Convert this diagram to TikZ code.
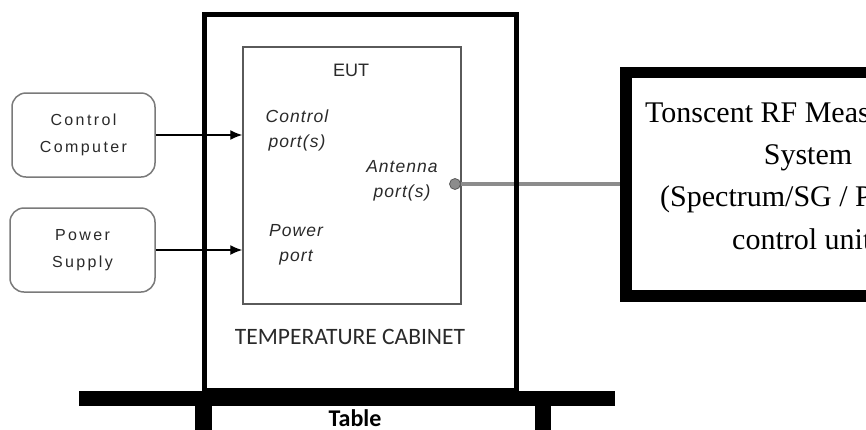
\documentclass[tikz,border=0pt]{standalone}
\usepackage{fontspec}
\setmainfont{Liberation Serif}
\newfontfamily\arialfont{Liberation Sans}
\newfontfamily\arialsp[LetterSpace=15]{Liberation Sans}
\newfontfamily\arialitsp[LetterSpace=6]{Liberation Sans}
\newfontfamily\calfont{Carlito}
\newfontfamily\timesfont{Liberation Serif}
\usetikzlibrary{arrows.meta,calc}
\definecolor{boxgray}{HTML}{7A7A7A}
\definecolor{eutgray}{HTML}{5A5A5A}
\definecolor{cablegray}{HTML}{8C8C8C}
\definecolor{txtgray}{HTML}{2A2A2A}
\tikzset{
  rbox/.style={draw=boxgray, line width=1.5pt, rounded corners=14pt, align=center,
    font=\arialsp\fontsize{16}{27}\selectfont, text=txtgray, inner sep=0pt},
  eutbox/.style={draw=eutgray, line width=1.5pt, inner sep=0pt},
  portlbl/.style={align=center, font=\arialitsp\itshape\fontsize{17.5}{25}\selectfont, text=txtgray, inner sep=0pt},
  arr/.style={line width=1.4pt, -{Latex[length=12pt,width=10pt]}},
  cable/.style={draw=cablegray, line width=4pt},
  cabbox/.style={draw=black, line width=5pt, inner sep=0pt},
  rfbox/.style={draw=black, line width=11.5pt, inner sep=0pt},
  rftext/.style={font=\timesfont\fontsize{30}{42}\selectfont, text=black, inner sep=0pt},
}
\begin{document}
\begin{tikzpicture}[x=1pt,y=-1pt]
\useasboundingbox (0,0) rectangle (866,429);
\clip (0,0) rectangle (866,429);
\fill[white] (0,0) rectangle (866,429);

% EUT box and labels
\node[eutbox, minimum width=218pt, minimum height=257pt] (eut) at (352,175.5) {};
\node[font=\arialfont\fontsize{18}{22}\selectfont, text=txtgray, inner sep=0pt] (eutlbl) at (351,70) {EUT};
\node[portlbl] (ctlport) at (297,130) {Control\\port(s)};
\node[portlbl] (antport) at (402,181) {Antenna\\port(s)};
\node[portlbl] (pwrport) at (296,245) {Power\\port};

% antenna connector
\node[circle, fill=cablegray, draw=eutgray, line width=0.8pt, minimum size=11pt, inner sep=0pt] (ant) at (455,184) {};

% RF measurement system box
\node[rfbox, minimum width=274pt, minimum height=223.5pt] (rf) at (763,184.25) {};
\node[rftext, anchor=base west] (rf1) at (645,122) {Tonscent RF Measurement};
\node[rftext, anchor=base] (rf2) at (808,164) {System};
\node[rftext, anchor=base west] (rf3) at (660,206) {(Spectrum/SG / Power meter};
\node[rftext, anchor=base west] (rf4) at (732,249) {control unit)};

% cable
\draw[cable] (ant.east) -- (ant.east -| rf.west);

% left boxes
\node[rbox, minimum width=143pt, minimum height=84pt] (cc) at (83.5,135) {Control\\Computer};
\node[rbox, minimum width=145pt, minimum height=84pt] (ps) at (82.5,250) {Power\\Supply};

\draw[arr] (cc.east) -- (cc.east -| eut.west);
\draw[arr] (ps.east) -- (ps.east -| eut.west);

% temperature cabinet
\node[cabbox, minimum width=312pt, minimum height=375.5pt] (cab) at (360,202.25) {};
\node[font=\calfont\fontsize{23.5}{28}\selectfont, text=txtgray, inner sep=0pt] (cablbl) at (350,337) {TEMPERATURE CABINET};

% table
\fill[black] (79,391) rectangle (615,406);
\fill[black] (195,405) rectangle (212,430);
\fill[black] (535,405) rectangle (551,430);
\node[font=\calfont\bfseries\fontsize{24}{28}\selectfont, text=black, inner sep=0pt] (tbl) at (355,418) {Table};
\end{tikzpicture}
\end{document}
